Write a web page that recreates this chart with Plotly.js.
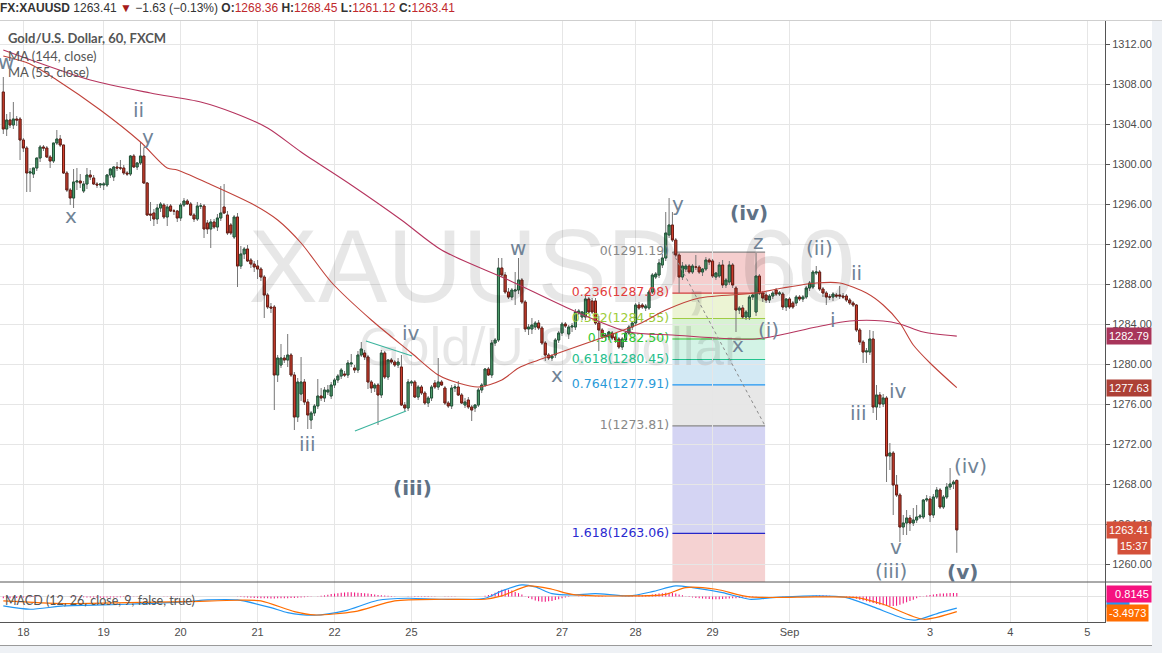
<!DOCTYPE html>
<html><head><meta charset="utf-8">
<script src="https://cdn.plot.ly/plotly-3.0.1.min.js"></script>
<style>html,body{margin:0;padding:0;background:#fff;overflow:hidden}#chart{width:1162px;height:653px}</style>
</head><body><div id="chart"></div>
<script>
// ---------------- DATA ----------------
// hourly bars, index 0 = first visible bar (Aug 17 evening) ... 285 = last bar (Sep 3)
const openP = [
1307.2,1303.5,1304.4,1303.9,1304.5,1304.5,1302.4,1301.6,1299.1,1299.0,
1299.6,1300.6,1301.7,1301.6,1300.7,1300.3,1302.1,1302.5,1301.9,1299.1,
1297.4,1296.6,1298.2,1298.3,1297.3,1298.0,1298.9,1298.6,1298.0,1297.9,
1297.9,1297.9,1298.9,1298.7,1299.7,1299.6,1299.6,1299.1,1299.0,1300.8,
1299.7,1300.1,1300.8,1298.1,1295.0,1295.1,1294.5,1295.6,1295.9,1294.7,
1295.8,1295.3,1295.3,1294.6,1295.9,1296.3,1296.0,1294.9,1294.5,1295.8,
1295.8,1294.1,1293.5,1294.2,1293.7,1294.6,1295.7,1294.9,1293.9,1292.7,
1294.7,1289.8,1291.0,1291.5,1290.4,1290.0,1289.8,1289.5,1288.7,1286.9,
1285.7,1285.7,1278.9,1279.9,1280.6,1280.4,1280.9,1278.9,1274.7,1277.0,
1278.2,1276.2,1274.4,1275.1,1275.8,1276.8,1276.6,1277.2,1276.8,1277.9,
1278.4,1278.8,1279.0,1278.9,1280.0,1279.6,1279.4,1280.9,1281.1,1280.7,
1278.2,1277.6,1277.9,1276.9,1281.1,1278.7,1280.4,1280.2,1279.9,1279.7,
1275.9,1275.6,1278.1,1278.2,1276.7,1277.7,1277.1,1276.1,1276.6,1278.1,
1277.7,1278.2,1277.6,1276.1,1275.8,1277.6,1277.7,1276.9,1275.9,1276.4,
1275.7,1275.6,1275.9,1277.4,1277.9,1279.5,1278.9,1282.1,1282.4,1289.6,
1288.9,1287.2,1286.7,1287.3,1287.4,1288.4,1286.2,1283.5,1283.5,1283.7,
1284.1,1283.6,1282.1,1280.9,1280.6,1280.9,1282.4,1283.1,1284.0,1283.0,
1283.7,1283.7,1285.1,1284.7,1284.7,1286.5,1286.3,1286.3,1284.1,1283.4,
1282.7,1282.7,1283.1,1282.7,1282.5,1281.7,1282.4,1283.1,1283.7,1284.1,
1285.9,1285.9,1285.6,1285.6,1287.2,1288.7,1288.9,1289.9,1290.6,1292.9,
1293.9,1292.4,1290.9,1288.7,1289.5,1289.8,1289.2,1289.7,1289.7,1289.2,
1289.5,1290.4,1290.3,1288.7,1288.8,1289.9,1287.9,1288.2,1289.9,1287.6,
1285.4,1285.6,1284.7,1284.7,1286.7,1285.2,1288.8,1287.1,1286.9,1286.4,
1286.8,1287.4,1287.0,1287.0,1285.7,1286.5,1286.1,1286.1,1286.7,1286.5,
1286.7,1287.6,1287.7,1289.1,1289.2,1287.5,1287.1,1286.7,1286.7,1286.9,
1286.9,1286.8,1286.8,1286.4,1286.1,1285.9,1283.4,1282.2,1281.2,1281.2,
1282.5,1275.7,1276.9,1276.0,1276.6,1270.8,1271.1,1267.9,1266.9,1263.7,
1264.1,1264.6,1264.1,1264.4,1264.7,1264.7,1266.4,1266.5,1264.9,1266.7,
1267.4,1265.7,1266.7,1267.7,1268.0,1268.36];
const highP = [
1308.7,1305.0,1305.2,1306.2,1304.8,1304.7,1302.6,1301.8,1299.6,1299.6,
1300.6,1301.9,1301.9,1301.8,1300.9,1302.1,1303.4,1302.9,1301.9,1299.3,
1297.6,1299.5,1299.6,1299.0,1298.3,1299.6,1299.4,1298.9,1298.2,1298.1,
1298.2,1299.0,1299.6,1299.8,1300.2,1300.4,1299.9,1299.3,1300.9,1301.0,
1300.2,1302.2,1301.6,1298.2,1296.2,1295.5,1296.0,1296.2,1296.1,1296.0,
1296.0,1295.5,1295.4,1296.1,1296.6,1296.5,1296.2,1295.1,1296.2,1296.1,
1296.0,1294.4,1294.5,1294.5,1295.0,1297.8,1298.0,1295.3,1294.1,1294.9,
1295.1,1291.8,1291.7,1291.9,1290.6,1290.3,1290.4,1289.7,1288.9,1287.1,
1286.1,1285.9,1280.9,1282.0,1280.9,1283.0,1281.1,1279.2,1278.6,1280.7,
1278.5,1276.5,1275.3,1276.0,1278.5,1277.6,1277.7,1277.9,1278.2,1278.6,
1279.0,1279.6,1279.3,1280.4,1281.0,1279.9,1281.3,1282.2,1281.4,1280.9,
1278.4,1278.1,1278.1,1281.4,1281.3,1280.5,1280.6,1280.4,1280.6,1280.9,
1276.2,1278.5,1278.4,1278.4,1277.9,1277.9,1277.3,1276.8,1277.9,1278.4,
1280.6,1278.4,1277.8,1276.3,1277.9,1278.0,1278.3,1277.1,1276.6,1276.7,
1275.9,1276.0,1277.6,1278.1,1279.6,1279.7,1282.4,1282.6,1290.6,1290.6,
1289.2,1287.6,1287.6,1289.2,1290.6,1288.6,1286.4,1284.0,1284.6,1284.3,
1284.4,1283.8,1282.3,1281.1,1281.0,1282.6,1283.3,1284.2,1284.2,1283.9,
1284.1,1285.5,1285.5,1285.3,1286.8,1286.7,1286.6,1286.6,1284.8,1283.6,
1283.1,1283.3,1283.3,1283.0,1282.7,1282.7,1283.3,1283.9,1284.3,1286.1,
1286.2,1286.1,1286.0,1287.4,1289.1,1289.2,1290.5,1291.0,1295.2,1296.6,
1295.2,1292.6,1291.1,1290.2,1290.0,1290.0,1290.0,1290.9,1289.9,1289.6,
1290.7,1290.6,1290.5,1289.2,1290.2,1290.4,1288.6,1290.3,1290.1,1287.8,
1285.8,1285.9,1285.4,1286.9,1287.0,1291.1,1289.0,1287.3,1287.2,1287.0,
1287.3,1287.6,1287.3,1287.2,1286.6,1286.7,1286.3,1286.9,1286.9,1286.9,
1287.8,1288.3,1289.4,1289.8,1289.4,1287.7,1287.3,1287.0,1287.2,1287.1,
1287.8,1287.1,1287.0,1286.6,1286.3,1286.0,1283.6,1282.4,1281.6,1283.4,
1283.3,1277.9,1277.2,1277.0,1276.8,1272.1,1271.3,1268.9,1267.1,1264.9,
1265.4,1264.9,1265.6,1265.9,1265.0,1266.5,1266.9,1266.8,1267.0,1267.7,
1267.6,1266.9,1268.1,1269.6,1268.4,1268.45];
const lowP = [
1303.0,1302.8,1303.6,1303.5,1303.8,1300.4,1301.2,1297.2,1297.2,1298.6,
1299.3,1300.2,1301.3,1300.6,1299.6,1300.1,1301.9,1301.7,1299.0,1297.2,
1295.9,1295.6,1297.4,1297.6,1297.1,1297.5,1298.4,1297.9,1297.6,1297.6,
1297.4,1297.7,1298.6,1298.3,1299.3,1299.4,1298.9,1298.8,1298.8,1299.6,
1299.4,1299.9,1298.0,1294.8,1294.3,1293.8,1294.0,1295.2,1294.5,1293.8,
1295.2,1294.9,1294.2,1294.3,1295.7,1295.9,1294.8,1294.2,1294.3,1295.5,
1292.6,1293.0,1291.6,1293.5,1293.3,1294.3,1295.0,1292.9,1292.9,1292.5,
1287.7,1289.5,1290.5,1290.2,1289.6,1289.2,1288.5,1288.3,1284.6,1285.5,
1285.1,1275.4,1278.2,1279.6,1280.1,1279.7,1278.7,1273.4,1274.2,1276.3,
1275.9,1273.5,1273.5,1274.8,1275.5,1276.3,1276.2,1276.9,1276.5,1277.6,
1278.1,1278.5,1278.7,1278.6,1279.7,1279.1,1279.1,1280.7,1280.4,1277.5,
1277.1,1277.2,1273.9,1276.6,1278.5,1278.4,1280.0,1279.7,1279.6,1275.8,
1275.3,1275.3,1277.8,1276.6,1276.4,1276.9,1275.9,1275.7,1276.3,1277.5,
1277.4,1277.8,1275.9,1275.6,1275.5,1277.2,1276.8,1276.0,1275.6,1275.5,
1274.3,1275.2,1275.7,1277.1,1277.7,1278.8,1278.6,1281.8,1282.2,1288.7,
1287.0,1286.5,1286.4,1285.9,1287.0,1286.0,1283.2,1282.9,1283.0,1283.4,
1283.4,1281.9,1280.3,1280.4,1280.3,1280.6,1282.1,1282.8,1283.6,1282.5,
1283.2,1283.4,1284.9,1284.4,1284.4,1285.0,1285.0,1283.9,1281.3,1282.5,
1282.3,1282.4,1282.4,1282.1,1281.5,1281.4,1282.2,1282.9,1283.4,1283.9,
1285.4,1285.5,1285.3,1285.4,1287.0,1288.5,1288.6,1289.6,1290.3,1292.6,
1292.2,1290.7,1287.1,1288.4,1289.2,1289.0,1289.0,1289.4,1289.0,1288.8,
1289.3,1289.9,1288.6,1288.4,1288.6,1287.6,1287.6,1287.9,1287.6,1283.2,
1285.0,1284.5,1284.4,1284.4,1286.4,1284.8,1286.9,1286.2,1286.1,1286.1,
1286.5,1286.8,1286.8,1285.4,1285.3,1285.5,1285.5,1285.8,1286.3,1286.2,
1286.5,1287.3,1287.5,1288.9,1287.3,1286.7,1285.9,1286.4,1286.3,1286.6,
1286.5,1286.5,1286.2,1285.9,1285.7,1283.2,1281.9,1280.1,1280.1,1280.9,
1275.1,1274.4,1275.6,1275.7,1268.2,1269.4,1264.9,1266.7,1262.2,1262.9,
1262.9,1263.3,1263.8,1264.1,1264.5,1264.5,1266.2,1264.2,1264.6,1266.5,
1265.5,1265.5,1266.5,1267.4,1267.5,1261.12];
const closeP = [
1303.5,1304.4,1303.9,1304.5,1304.4,1302.4,1301.6,1299.1,1299.2,1299.6,
1300.6,1301.7,1301.6,1300.7,1300.3,1302.1,1302.5,1301.9,1299.1,1297.4,
1296.6,1298.2,1298.3,1298.1,1298.0,1298.9,1298.7,1298.0,1297.9,1298.0,
1298.0,1298.9,1299.5,1299.7,1299.6,1299.6,1299.1,1299.0,1300.8,1299.7,
1300.1,1300.8,1298.1,1294.9,1294.9,1294.5,1295.6,1296.0,1294.7,1295.7,
1295.3,1295.3,1294.6,1295.9,1296.3,1296.0,1294.9,1294.5,1295.8,1295.8,
1293.5,1293.5,1294.2,1293.7,1294.6,1295.1,1295.1,1293.1,1293.1,1294.7,
1289.8,1291.0,1291.5,1290.3,1290.0,1289.7,1289.5,1288.7,1286.9,1285.7,
1285.6,1278.9,1280.6,1280.6,1280.4,1280.9,1278.9,1274.7,1278.2,1278.2,
1276.2,1274.9,1275.1,1275.8,1276.8,1276.6,1277.4,1277.4,1277.9,1278.4,
1278.8,1279.4,1278.9,1280.1,1280.1,1279.4,1280.9,1281.5,1280.7,1278.2,
1277.6,1277.9,1276.9,1281.1,1278.7,1280.4,1280.2,1279.9,1280.2,1275.9,
1275.6,1278.2,1278.2,1276.7,1277.7,1277.1,1276.1,1276.6,1277.7,1277.7,
1278.2,1277.9,1276.1,1275.8,1277.6,1277.7,1276.9,1276.1,1276.2,1275.7,
1275.4,1275.9,1277.4,1277.9,1279.5,1278.9,1282.1,1282.4,1289.6,1288.9,
1287.2,1286.7,1287.4,1287.4,1288.4,1286.2,1283.5,1283.7,1283.9,1284.1,
1283.6,1282.1,1280.9,1280.6,1280.8,1282.4,1283.1,1284.0,1283.8,1283.7,
1283.8,1285.2,1285.3,1285.2,1286.5,1285.2,1285.2,1284.1,1283.4,1282.7,
1282.9,1283.2,1282.6,1282.4,1281.7,1282.5,1283.1,1283.7,1284.1,1285.9,
1285.6,1285.7,1285.8,1287.2,1288.9,1289.0,1290.1,1290.6,1293.1,1293.9,
1292.4,1290.9,1288.7,1289.8,1289.8,1289.2,1289.8,1289.7,1289.2,1289.5,
1290.4,1290.2,1288.8,1289.1,1289.9,1287.9,1288.4,1289.9,1287.9,1285.4,
1285.6,1284.7,1285.2,1286.7,1286.9,1288.8,1287.1,1286.6,1286.4,1286.8,
1287.1,1287.0,1287.1,1285.7,1286.5,1285.7,1285.7,1286.7,1286.5,1286.7,
1287.6,1288.1,1289.2,1289.2,1287.5,1287.1,1286.7,1286.7,1287.0,1286.8,
1286.8,1286.7,1286.4,1286.1,1285.9,1283.4,1282.2,1281.2,1281.3,1282.5,
1275.7,1276.9,1276.0,1276.6,1270.8,1271.1,1267.9,1266.9,1263.7,1264.1,
1264.6,1264.1,1264.4,1264.7,1264.8,1266.4,1266.5,1264.9,1266.7,1267.4,
1265.7,1266.7,1267.7,1268.0,1268.2,1263.41];

const dayTickIdx  = [6, 30, 53, 76, 99, 122, 167, 189, 212, 235, 277, 301, 324];
const dayTickText = ['18','19','20','21','22','25','27','28','29','Sep','3','4','5'];

const ma144Idx = [0,26,44,59,69,79,89,104,119,131,151,170,187,200,225,243,253,263,268,275,285];
const ma144Val = [1311.4,1308.4,1307.1,1306.2,1305.1,1303.6,1301.2,1297.9,1294.4,1291.4,1288.4,1285.4,1283.2,1282.9,1282.5,1283.7,1284.3,1284.3,1284.0,1283.2,1282.79];
const ma55Idx = [0,8,16,29,41,49,52,61,75,82,89,98,110,122,130,136,142,149,154,160,190,198,208,225,233,243,250,258,263,268,272,277,285];
const ma55Val = [1310.8,1310.0,1308.4,1305.4,1302.2,1299.6,1299.4,1298.1,1295.9,1294.4,1292.1,1288.2,1284.4,1281.1,1278.9,1278.1,1277.7,1278.4,1279.6,1280.4,1284.0,1285.4,1286.6,1287.1,1287.6,1288.1,1288.1,1287.1,1285.9,1284.1,1281.9,1280.1,1277.63];

const macdIdx = [0,8,18,37,55,61,70,80,85,93,102,112,121,131,144,149,155,159,164,170,177,187,194,201,206,215,223,230,243,252,260,270,273,280,285];
const macdVal = [-2.16,-2.94,-2.16,-1.77,-1.15,-0.77,-0.77,-2.55,-3.71,-4.33,-3.33,-0.84,-0.38,-0.61,-0.38,1.33,2.72,2.26,0.7,0.39,0.7,0.16,1.16,2.49,2.1,0.93,-0.61,-0.22,0.16,-0.22,-2.39,-5.26,-5.41,-3.71,-2.68];
const signalIdx = [0,18,37,55,70,77,87,93,105,117,131,144,149,157,164,170,187,198,204,213,223,243,255,263,275,285];
const signalVal = [-1.0,-1.62,-1.39,-1.15,-0.84,-1.0,-3.48,-4.26,-3.48,-1.0,-0.61,-0.61,0.16,2.49,1.71,0.54,0.16,0.54,2.1,1.71,-0.07,-0.07,-0.22,-1.77,-5.26,-3.4973];
const histVal = [
-0.4,-0.4,-0.35,-0.3,-0.3,-0.25,-0.2,-0.2,-0.15,-0.1,-0.1,-0.05,0,0.05,0.05,0.1,0.1,0.05,0,0,
-0.05,-0.1,-0.1,-0.15,-0.15,-0.2,-0.2,-0.2,-0.25,-0.25,-0.25,-0.2,-0.2,-0.2,-0.15,-0.15,-0.1,-0.1,-0.1,-0.05,-0.05,0,0,0,0.05,0.05,0.05,0.05,0.1,0.1,
0.1,0.1,0.1,0.1,0.05,0.05,0.05,0.05,0,0,0,0,0.05,0.05,0.05,0.05,0.05,0,0,0,
-0.05,-0.1,-0.15,-0.2,-0.25,-0.3,-0.3,-0.35,-0.4,-0.4,-0.45,-0.45,-0.4,-0.4,-0.35,-0.35,-0.3,-0.3,-0.25,-0.2,-0.15,-0.1,-0.05,0,
0.1,0.2,0.3,0.45,0.6,0.7,0.8,0.9,0.95,1.0,1.0,0.95,0.9,0.85,0.8,0.7,0.6,0.5,0.4,0.3,0.25,0.2,0.15,0.1,0.05,0,
0,-0.05,-0.05,-0.1,-0.1,-0.1,-0.1,-0.1,-0.05,-0.05,0,0,-0.05,-0.05,-0.05,-0.05,0,0,0,0,0,0,0.05,0.05,
0.2,0.4,0.6,0.9,1.3,1.6,1.7,1.6,1.4,1.1,0.8,0.5,
0.1,-0.3,-0.6,-0.9,-1.1,-1.2,-1.2,-1.1,-1.0,-0.8,-0.6,-0.4,-0.2,
-0.1,0,0.05,0.1,0.1,0.1,0.05,0,-0.05,-0.1,-0.1,-0.05,0,0,0.05,0.05,0.1,0.1,
0.15,0.2,0.25,0.3,0.3,0.35,0.4,
0.5,0.6,0.7,0.8,0.9,0.9,0.85,0.7,0.5,0.3,0.1,
-0.1,-0.2,-0.3,-0.4,-0.45,-0.5,-0.55,-0.6,-0.6,-0.6,-0.55,-0.5,-0.45,-0.4,-0.35,-0.3,-0.25,-0.2,-0.15,-0.1,-0.05,
0,0,0.05,0.05,0.05,0,0,-0.05,-0.05,-0.05,0,0,0.05,0.05,0.1,0.15,0.2,
0.25,0.3,0.3,0.25,0.2,0.15,0.1,0.05,0,
-0.1,-0.2,-0.35,-0.5,-0.7,-0.9,-1.1,-1.3,-1.5,-1.7,-1.9,-2.0,-2.1,-2.2,-2.2,-2.1,-1.9,
-1.6,-1.3,-1.0,-0.7,-0.4,-0.1,
0.1,0.25,0.4,0.5,0.6,0.7,0.75,0.8,0.85,0.85,0.8145];

const fibRatios = [0, 0.236, 0.382, 0.5, 0.618, 0.764, 1, 1.618, 2.618];
const fibPrices = [1291.19, 1287.08, 1284.55, 1282.50, 1280.45, 1277.91, 1273.81, 1263.06, 1245.69];

const waveText = ['w','ii','y','x','iii','iv','(iii)','w','x','y','(iv)','z','(ii)','ii','i','(i)','x','iii','iv','(iv)','v','(iii)','(v)'];
const waveIdx  = [0.8,40.3,43.2,20.2,90.8,121.9,122.2,153.9,165.5,201.7,222.9,225.6,244.1,254.9,248.0,228.6,219.6,255.5,267.4,289.0,266.8,265.3,286.6];
const wavePrice= [1310.2,1305.4,1302.7,1294.8,1272.0,1283.1,1267.6,1291.6,1278.9,1296.0,1295.1,1292.2,1291.6,1289.1,1284.4,1283.4,1281.9,1275.1,1277.3,1269.8,1261.7,1259.3,1259.2];
const waveBold = [0,0,0,0,0,0,1,0,0,0,1,0,0,0,0,0,0,0,0,0,0,0,1];

// ---------------- STYLE / LAYOUT ----------------
const barIdx = closeP.map((_, i) => i);
const bodyHigh = openP.map((o, i) => Math.max(o, closeP[i]));
const bodyLow  = openP.map((o, i) => Math.min(o, closeP[i]));

const plotW = 1105, plotBottom = 622, plotH = 601;
const px = x => x / plotW;
const py = y => (plotBottom - y) / plotH;
const macdDomTop = 40 / plotH;

const fibX0 = 200, fibX1 = 227.7;
const fibFill = ['#f5cece','#ecf4d4','#d8f2d3','#d3f3e6','#d3e9f4','#e7e7e7','#d4d4f3','#f5d2d2'];
const fibLine = ['#888888','#d03c3c','#a0cc44','#30c830','#22c48e','#2196f3','#888888','#2626c8'];
const fibLbl  = ['#888888','#e23c3c','#9bcc38','#30c830','#24be8c','#2a9ad8','#888888','#2a2ad0'];

const wmFont = 'Liberation Sans, Arial, sans-serif';
const data = [];
// watermark
data.push({type:'scatter', mode:'text', x:[164], y:[1288.8], text:['XAUUSD, 60'],
  textfont:{family:wmFont, size:104, color:'rgba(0,0,0,0.095)'},
  textposition:'middle center', hoverinfo:'skip', cliponaxis:false});
data.push({type:'scatter', mode:'text', x:[163.5], y:[1281.2], text:['Gold/U.S. Dollar'],
  textfont:{family:wmFont, size:53, color:'rgba(0,0,0,0.095)'},
  textposition:'middle center', hoverinfo:'skip', cliponaxis:false});
// fib labels
const fibLabelText = fibRatios.slice(0, 8).map((r, k) => r + '(' + fibPrices[k].toFixed(2) + ')');
data.push({type:'scatter', mode:'text', x:fibPrices.slice(0,8).map(() => fibX0 - 1.0), y:fibPrices.slice(0,8),
  text:fibLabelText, textposition:'middle left',
  textfont:{family:'DejaVu Sans, sans-serif', size:12.5, color:fibLbl}, hoverinfo:'skip', cliponaxis:false});
// MAs
data.push({type:'scatter', mode:'lines', x:ma144Idx, y:ma144Val, line:{color:'#b5345e', width:1.1, shape:'spline', smoothing:0.8}, hoverinfo:'skip'});
data.push({type:'scatter', mode:'lines', x:ma55Idx, y:ma55Val, line:{color:'#c0423a', width:1.1, shape:'spline', smoothing:0.8}, hoverinfo:'skip'});
// wicks
data.push({type:'candlestick', x:barIdx, open:openP, high:highP, low:lowP, close:closeP,
  increasing:{line:{color:'#767676', width:1}, fillcolor:'rgba(0,0,0,0)'},
  decreasing:{line:{color:'#767676', width:1}, fillcolor:'rgba(0,0,0,0)'},
  hoverinfo:'skip', showlegend:false});
// bodies
data.push({type:'candlestick', x:barIdx, open:openP, high:bodyHigh, low:bodyLow, close:closeP,
  increasing:{line:{color:'#23553a', width:1}, fillcolor:'#4f9d6c'},
  decreasing:{line:{color:'#6a1d15', width:1}, fillcolor:'#d3402e'},
  hoverinfo:'skip', showlegend:false});
// MACD pane
data.push({type:'bar', x:barIdx, y:histVal, yaxis:'y2', width:0.32, marker:{color:'#f0177f', line:{width:0}}, hoverinfo:'skip'});
data.push({type:'scatter', mode:'lines', x:macdIdx, y:macdVal, yaxis:'y2', line:{color:'#2196f3', width:1.2, shape:'spline', smoothing:0.7}, hoverinfo:'skip'});
data.push({type:'scatter', mode:'lines', x:signalIdx, y:signalVal, yaxis:'y2', line:{color:'#ff6d00', width:1.2, shape:'spline', smoothing:0.7}, hoverinfo:'skip'});

const shapes = [];
for (let k = 0; k < 8; k++) {
  shapes.push({type:'rect', xref:'x', yref:'y', x0:fibX0, x1:fibX1, y0:fibPrices[k], y1:fibPrices[k+1],
    fillcolor:fibFill[k], line:{width:0}, layer:'below'});
}
for (let k = 0; k < 8; k++) {
  shapes.push({type:'line', xref:'x', yref:'y', x0:fibX0, x1:fibX1, y0:fibPrices[k], y1:fibPrices[k],
    line:{color:fibLine[k], width:1.2}, layer:'below'});
}
shapes.push({type:'line', xref:'x', yref:'y', x0:fibX0, y0:fibPrices[0], x1:fibX1, y1:fibPrices[6], line:{color:'#8a8a8a', width:1, dash:'dot'}});
// triangle
shapes.push({type:'line', xref:'x', yref:'y', x0:108.4, y0:1282.3, x1:122.2, y1:1280.8, line:{color:'#3cb49e', width:1.2}});
shapes.push({type:'line', xref:'x', yref:'y', x0:105.1, y0:1273.3, x1:120.4, y1:1275.3, line:{color:'#3cb49e', width:1.2}});
// frame lines
shapes.push({type:'line', xref:'paper', yref:'paper', x0:0, x1:px(1162), y0:py(20.5), y1:py(20.5), line:{color:'#cfcfcf', width:1}});
shapes.push({type:'line', xref:'paper', yref:'paper', x0:0, x1:px(1152), y0:macdDomTop, y1:macdDomTop, line:{color:'#555555', width:1}});
shapes.push({type:'rect', xref:'paper', yref:'paper', x0:px(1152), x1:px(1163), y0:py(654), y1:py(21), fillcolor:'#eef1f5', line:{width:0}});
shapes.push({type:'rect', xref:'paper', yref:'paper', x0:0, x1:px(1163), y0:py(654), y1:py(646), fillcolor:'#eef1f5', line:{width:0}});
shapes.push({type:'line', xref:'paper', yref:'paper', x0:0, x1:px(1152), y0:py(645.5), y1:py(645.5), line:{color:'#9a9a9a', width:1}});

const annotations = [];
const baseFont = 'Liberation Sans, Arial, sans-serif';
annotations.push({xref:'paper', yref:'paper', x:-0.002, y:py(8), xanchor:'left', yanchor:'middle', showarrow:false,
  font:{family:baseFont, size:12, color:'#333'},
  text:'<b>FX:XAUUSD</b> 1263.41 <span style="color:#a61b1b">▼</span> −1.63 (−0.13%) <b>O:</b><span style="color:#c0282c">1268.36</span> <b>H:</b><span style="color:#c0282c">1268.45</span> <b>L:</b><span style="color:#c0282c">1261.12</span> <b>C:</b><span style="color:#c0282c">1263.41</span>'});
annotations.push({xref:'paper', yref:'paper', x:px(6), y:py(38), xanchor:'left', yanchor:'middle', showarrow:false,
  font:{family:'Lato, ' + baseFont, size:13, color:'#555'}, text:'<b>Gold/U.S. Dollar, 60, FXCM</b>'});
annotations.push({xref:'paper', yref:'paper', x:px(6), y:py(56), xanchor:'left', yanchor:'middle', showarrow:false,
  font:{family:'Lato, ' + baseFont, size:13, color:'#555'}, text:'MA (144, close)'});
annotations.push({xref:'paper', yref:'paper', x:px(6), y:py(72), xanchor:'left', yanchor:'middle', showarrow:false,
  font:{family:'Lato, ' + baseFont, size:13, color:'#555'}, text:'MA (55, close)'});
annotations.push({xref:'paper', yref:'paper', x:px(3), y:py(600), xanchor:'left', yanchor:'middle', showarrow:false,
  font:{family:'Lato, ' + baseFont, size:12.5, color:'#555'}, text:'MACD (12, 26, close, 9, false, true)'});
for (let k = 0; k < waveText.length; k++) {
  annotations.push({xref:'x', yref:'y', x:waveIdx[k], y:wavePrice[k], xanchor:'center', yanchor:'middle', showarrow:false,
    text: waveBold[k] ? '<b>' + waveText[k] + '</b>' : waveText[k],
    font:{family:'DejaVu Sans, sans-serif', size:20, color: waveBold[k] ? '#5f7286' : '#708396'}});
}
// right-axis value labels
function priceTag(yv, txt, bg) {
  annotations.push({xref:'paper', yref:'y', x:1, xshift:1, y:yv, xanchor:'left', yanchor:'middle', showarrow:false,
    text:txt, bgcolor:bg, borderpad:2, font:{family:baseFont, size:11, color:'#fff'}});
}
priceTag(1282.79, '1282.79', '#a8355a');
priceTag(1277.63, '1277.63', '#ad4036');
priceTag(1263.41, '1263.41', '#d4503a');
annotations.push({xref:'paper', yref:'y', x:px(1151), y:1261.8, xanchor:'right', yanchor:'middle', showarrow:false,
  text:'15:37', bgcolor:'#d4503a', borderpad:2, font:{family:baseFont, size:11, color:'#fff'}});
annotations.push({xref:'paper', yref:'paper', x:1, xshift:1, y:py(603.5), xanchor:'left', yanchor:'middle', showarrow:false,
  text:'-0.0000 ', bgcolor:'#2196f3', borderpad:0, font:{family:baseFont, size:6, color:'#2196f3'}});
annotations.push({xref:'paper', yref:'paper', x:1, xshift:1, y:py(594), xanchor:'left', yanchor:'middle', showarrow:false,
  text:'  0.8145', bgcolor:'#f5127f', borderpad:2, font:{family:baseFont, size:11, color:'#fff'}});
annotations.push({xref:'paper', yref:'paper', x:1, xshift:1, y:py(612.5), xanchor:'left', yanchor:'middle', showarrow:false,
  text:'-3.4973', bgcolor:'#ff6d00', borderpad:2, font:{family:baseFont, size:11, color:'#fff'}});

const layout = {
  width:1162, height:653,
  margin:{l:0, r:57, t:21, b:31, pad:0},
  paper_bgcolor:'#ffffff', plot_bgcolor:'#ffffff',
  showlegend:false, hovermode:false, boxgap:0.14,
  font:{family:baseFont, size:11, color:'#4d4d4d'},
  xaxis:{range:[-0.99, 329.3], anchor:'y2', tickmode:'array', tickvals:dayTickIdx, ticktext:dayTickText,
    showgrid:true, gridcolor:'#e6e6e6', gridwidth:1, zeroline:false, showline:true, linecolor:'#555', linewidth:1,
    ticks:'', tickfont:{family:baseFont, size:11, color:'#4d4d4d'}, rangeslider:{visible:false}, fixedrange:true},
  yaxis:{domain:[macdDomTop, 1], range:[1258.2, 1314.3], side:'right', anchor:'x', tickmode:'linear', tick0:1260, dtick:4,
    tickformat:'.2f', showgrid:true, gridcolor:'#e6e6e6', zeroline:false, showline:true, linecolor:'#555', linewidth:1,
    ticks:'outside', ticklen:4, tickcolor:'#555', tickfont:{family:baseFont, size:11, color:'#4d4d4d'}, fixedrange:true},
  yaxis2:{domain:[0, macdDomTop], range:[-5.9, 3.4], side:'right', anchor:'x', showticklabels:false, ticks:'',
    showgrid:false, zeroline:true, zerolinecolor:'#e3e3e3', zerolinewidth:1, showline:true, linecolor:'#555', linewidth:1, fixedrange:true},
  shapes:shapes, annotations:annotations
};
Plotly.newPlot('chart', data, layout, {staticPlot:true, displayModeBar:false});
</script></body></html>
